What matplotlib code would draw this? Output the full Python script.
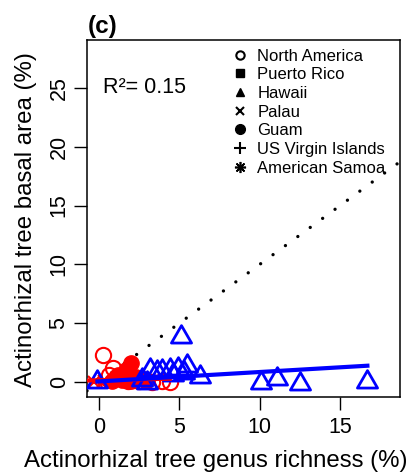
import numpy as np
import matplotlib
matplotlib.use("Agg")
import matplotlib.pyplot as plt
from matplotlib.lines import Line2D
from matplotlib.path import Path

plt.rcParams['font.family'] = ['Liberation Sans', 'DejaVu Sans']

# Hawaii (blue triangles)
hi_x = [-0.1, 2.7, 3.0, 3.2, 3.6, 3.9, 4.4, 4.6, 4.9, 5.1, 5.3, 5.5, 6.3, 10.1, 11.1, 12.5, 16.7]
hi_y = [0.2, 0.3, 0.1, 1.2, 1.0, 1.1, 1.2, 0.8, 1.3, 4.0, 0.9, 1.5, 0.6, 0.1, 0.4, 0.0, 0.2]

# other regions (red)
na_x = [0.25, 0.9, 0.6, 1.3, 2.5, 3.3, 4.4, 3.9, 1.8]
na_y = [2.3, 1.2, 0.6, 0.3, 0.1, 0.0, 0.0, 0.1, 0.05]
guam_x = [2.0, 1.7, 1.05, 2.3, 2.6, 1.4, 0.8, 2.0, 2.9, 1.2]
guam_y = [1.6, 1.0, 0.4, 0.4, 0.35, 0.2, 0.1, 0.1, 0.1, 0.6]
palau_x = [-0.3, 0.3]
palau_y = [0.0, 0.1]
usvi_x = [0.0]
usvi_y = [0.05]
samoa_x = [0.1]
samoa_y = [0.0]

# fitted lines: intercept, slope, x range
blue_fit = [0.05, 0.08]
blue_rng = [-0.1, 16.7]
red_fit = [0.15, 0.03]
red_rng = [-0.75, 4.4]

legend_labels = ["North America", "Puerto Rico", "Hawaii", "Palau", "Guam",
                 "US Virgin Islands", "American Samoa"]

# R-style open triangle (wider than tall)
tri = Path([(-1, -0.75), (1, -0.75), (0, 0.98), (-1, -0.75)],
           [Path.MOVETO, Path.LINETO, Path.LINETO, Path.CLOSEPOLY])

fig = plt.figure(figsize=(4.12, 4.74), dpi=100)
ax = fig.add_axes([0.2112, 0.1624, 0.7597, 0.7532])

ax.axline((0, 0), slope=1, color='black', lw=2.4, linestyle=(0, (0.01, 4.6)),
          dash_capstyle='round', zorder=1)

ax.plot(na_x, na_y, 'o', ms=11, mfc='none', mec='red', mew=1.5, zorder=2)
ax.plot(guam_x, guam_y, 'o', ms=11, mfc='red', mec='red', zorder=2)
ax.plot(palau_x, palau_y, 'x', ms=8, mec='red', mew=1.5, zorder=2)
ax.plot(usvi_x, usvi_y, '+', ms=9, mec='red', mew=1.5, zorder=2)
ax.plot(samoa_x, samoa_y, marker=(8, 2, 0), ls='none', ms=9, mec='red', mew=1.2, zorder=2)

ax.plot(hi_x, hi_y, ls='none', marker=tri, ms=14.5, mfc='none', mec='blue', mew=2, zorder=3)

xr = np.array(red_rng)
ax.plot(xr, red_fit[0] + red_fit[1] * xr, color='red', lw=3, zorder=4)
xb = np.array(blue_rng)
ax.plot(xb, blue_fit[0] + blue_fit[1] * xb, color='blue', lw=3, zorder=4)

ax.set_xlim(-0.747, 18.73)
ax.set_ylim(-1.276, 29.08)
ax.set_xticks([0, 5, 10, 15])
ax.set_yticks([0, 5, 10, 15, 20, 25])
ax.tick_params(length=9.5, width=1, labelsize=15.5, pad=3)
ax.tick_params(axis='x', pad=5)
for lab in ax.get_yticklabels():
    lab.set_rotation(90)
    lab.set_va('center')
for s in ax.spines.values():
    s.set_linewidth(1.1)

ax.text(0.25, 24.6, "R²= 0.15", fontsize=15.5, va='baseline', ha='left')

handles = [
    Line2D([], [], ls='none', marker='o', mfc='none', mec='black', mew=1.5, ms=6),
    Line2D([], [], ls='none', marker='s', color='black', ms=6),
    Line2D([], [], ls='none', marker='^', color='black', ms=6),
    Line2D([], [], ls='none', marker='x', color='black', mew=1.5, ms=6),
    Line2D([], [], ls='none', marker='o', color='black', ms=7),
    Line2D([], [], ls='none', marker='+', color='black', mew=1.5, ms=9),
    Line2D([], [], ls='none', marker=(8, 2, 0), color='black', mew=1.2, ms=8),
]
ax.legend(handles, legend_labels, loc='upper left', bbox_to_anchor=(0.469, 0.976),
          frameon=False, fontsize=12, borderpad=0, borderaxespad=0,
          handlelength=0.8, handletextpad=0.6, labelspacing=0.22)

fig.text(216 / 412, 1 - 467 / 474, "Actinorhizal tree genus richness (%)",
         fontsize=17.3, ha='center', va='baseline')
fig.text(32 / 412, 1 - 220 / 474, "Actinorhizal tree basal area (%)",
         fontsize=17.3, rotation=90, rotation_mode='anchor', ha='center', va='baseline')
fig.text(88 / 412, 1 - 33 / 474, "(c)", fontsize=17.5, fontweight='bold',
         ha='left', va='baseline')

fig.savefig("out.png", dpi=100)
